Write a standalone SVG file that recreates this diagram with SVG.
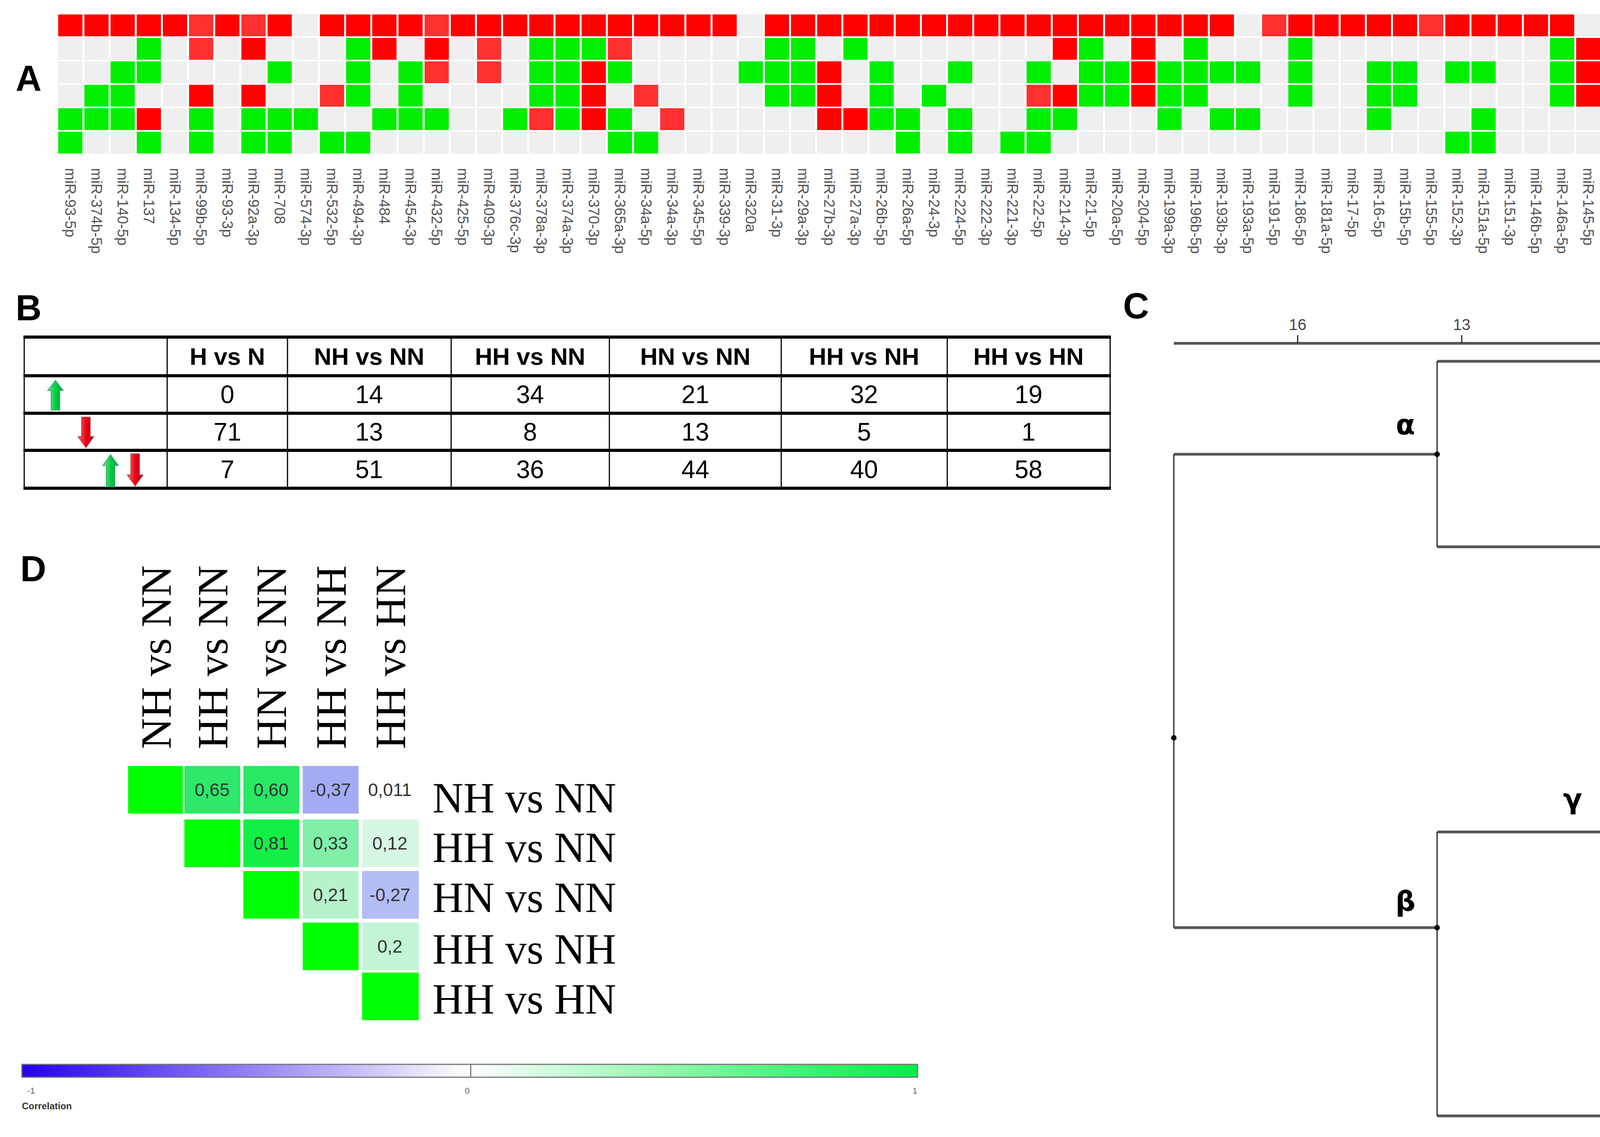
<svg xmlns="http://www.w3.org/2000/svg" width="5728" height="2911" viewBox="0 0 5728 2911">
<style>
.pl{font-family:"Liberation Sans",Arial,sans-serif;font-weight:bold;font-size:92px;fill:#000}
.ml{font-family:"Liberation Sans",Arial,sans-serif;font-size:38px;fill:#555}
.rl{font-family:"Liberation Sans",Arial,sans-serif;font-size:38px;fill:#333}
.th{font-family:"Liberation Sans",Arial,sans-serif;font-weight:bold;font-size:62px;fill:#000;text-anchor:middle}
.td{font-family:"Liberation Sans",Arial,sans-serif;font-size:64px;fill:#000;text-anchor:middle}
.ser{font-family:"Liberation Serif","Times New Roman",serif;font-size:110px;fill:#000}
.cv{font-family:"Liberation Sans",Arial,sans-serif;font-size:46px;fill:#333;text-anchor:middle}
.ax{font-family:"Liberation Sans",Arial,sans-serif;font-size:40px;fill:#444;text-anchor:middle}
.lf{font-family:"Liberation Sans",Arial,sans-serif;font-size:38px;fill:#333}
.gk{font-family:"DejaVu Sans",sans-serif;font-weight:bold;font-size:72px;fill:#000;text-anchor:middle}
.hb{stroke:#555;stroke-width:7;fill:none}
.vb{stroke:#222;stroke-width:3;fill:none}
.tl{stroke:#000;stroke-width:8}
.tv{stroke:#000;stroke-width:3}
</style>
<defs>
<pattern id="pB" patternUnits="userSpaceOnUse" x="149" y="37" width="67" height="60"><rect width="62" height="56" fill="#efefef"/></pattern>
<pattern id="pR" patternUnits="userSpaceOnUse" x="149" y="37" width="67" height="60"><rect width="62" height="56" fill="#ff0000"/></pattern>
<pattern id="pr" patternUnits="userSpaceOnUse" x="149" y="37" width="67" height="60"><rect width="62" height="56" fill="#ff3030"/></pattern>
<pattern id="pG" patternUnits="userSpaceOnUse" x="149" y="37" width="67" height="60"><rect width="62" height="56" fill="#00ee00"/></pattern>
<linearGradient id="gUp" x1="0" y1="0" x2="1" y2="0"><stop offset="0" stop-color="#7fe08f"/><stop offset="0.5" stop-color="#00d040"/><stop offset="1" stop-color="#009a50"/></linearGradient>
<linearGradient id="gDn" x1="0" y1="0" x2="1" y2="0"><stop offset="0" stop-color="#ff7070"/><stop offset="0.5" stop-color="#ee0010"/><stop offset="1" stop-color="#a00020"/></linearGradient>
<linearGradient id="gBar" x1="0" y1="0" x2="1" y2="0"><stop offset="0" stop-color="#2200ee"/><stop offset="0.5" stop-color="#ffffff"/><stop offset="1" stop-color="#00ee44"/></linearGradient>
</defs>
<rect width="5728" height="2911" fill="#fff"/>

<g id="panelA">
<text class="pl" x="40" y="232">A</text>
<rect x="149" y="37" width="5226" height="356" fill="url(#pB)"/>
<g id="row0" transform="translate(0,0)">
<rect x="149" y="37" width="335" height="56" fill="url(#pR)"/><rect x="484" y="37" width="67" height="56" fill="url(#pr)"/><rect x="551" y="37" width="67" height="56" fill="url(#pR)"/><rect x="618" y="37" width="67" height="56" fill="url(#pr)"/><rect x="685" y="37" width="67" height="56" fill="url(#pR)"/><rect x="819" y="37" width="268" height="56" fill="url(#pR)"/><rect x="1087" y="37" width="67" height="56" fill="url(#pr)"/><rect x="1154" y="37" width="737" height="56" fill="url(#pR)"/><rect x="1958" y="37" width="1206" height="56" fill="url(#pR)"/><rect x="3231" y="37" width="67" height="56" fill="url(#pr)"/><rect x="3298" y="37" width="335" height="56" fill="url(#pR)"/><rect x="3633" y="37" width="67" height="56" fill="url(#pr)"/><rect x="3700" y="37" width="335" height="56" fill="url(#pR)"/><rect x="4102" y="37" width="402" height="56" fill="url(#pR)"/><rect x="4638" y="37" width="335" height="56" fill="url(#pR)"/><rect x="4973" y="37" width="67" height="56" fill="url(#pr)"/><rect x="5040" y="37" width="134" height="56" fill="url(#pR)"/><rect x="5241" y="37" width="134" height="56" fill="url(#pR)"/>
</g>
<g id="row1">
<rect x="350" y="97" width="67" height="56" fill="url(#pG)"/><rect x="484" y="97" width="67" height="56" fill="url(#pr)"/><rect x="618" y="97" width="67" height="56" fill="url(#pR)"/><rect x="886" y="97" width="67" height="56" fill="url(#pG)"/><rect x="953" y="97" width="67" height="56" fill="url(#pR)"/><rect x="1087" y="97" width="67" height="56" fill="url(#pR)"/><rect x="1221" y="97" width="67" height="56" fill="url(#pr)"/><rect x="1355" y="97" width="201" height="56" fill="url(#pG)"/><rect x="1556" y="97" width="67" height="56" fill="url(#pr)"/><rect x="1958" y="97" width="134" height="56" fill="url(#pG)"/><rect x="2159" y="97" width="67" height="56" fill="url(#pG)"/><rect x="2695" y="97" width="67" height="56" fill="url(#pR)"/><rect x="2762" y="97" width="67" height="56" fill="url(#pG)"/><rect x="2896" y="97" width="67" height="56" fill="url(#pR)"/><rect x="3030" y="97" width="67" height="56" fill="url(#pG)"/><rect x="3298" y="97" width="67" height="56" fill="url(#pG)"/><rect x="3968" y="97" width="67" height="56" fill="url(#pG)"/><rect x="4035" y="97" width="134" height="56" fill="url(#pR)"/><rect x="4303" y="97" width="67" height="56" fill="url(#pR)"/><rect x="4437" y="97" width="67" height="56" fill="url(#pr)"/><rect x="4504" y="97" width="67" height="56" fill="url(#pG)"/><rect x="4772" y="97" width="67" height="56" fill="url(#pR)"/><rect x="4973" y="97" width="67" height="56" fill="url(#pG)"/>
</g>
<g id="row2">
<rect x="283" y="157" width="134" height="56" fill="url(#pG)"/><rect x="685" y="157" width="67" height="56" fill="url(#pG)"/><rect x="886" y="157" width="67" height="56" fill="url(#pG)"/><rect x="1020" y="157" width="67" height="56" fill="url(#pG)"/><rect x="1087" y="157" width="67" height="56" fill="url(#pr)"/><rect x="1221" y="157" width="67" height="56" fill="url(#pr)"/><rect x="1355" y="157" width="134" height="56" fill="url(#pG)"/><rect x="1489" y="157" width="67" height="56" fill="url(#pR)"/><rect x="1556" y="157" width="67" height="56" fill="url(#pG)"/><rect x="1891" y="157" width="201" height="56" fill="url(#pG)"/><rect x="2092" y="157" width="67" height="56" fill="url(#pR)"/><rect x="2226" y="157" width="67" height="56" fill="url(#pG)"/><rect x="2427" y="157" width="67" height="56" fill="url(#pG)"/><rect x="2628" y="157" width="67" height="56" fill="url(#pG)"/><rect x="2762" y="157" width="134" height="56" fill="url(#pG)"/><rect x="2896" y="157" width="67" height="56" fill="url(#pR)"/><rect x="2963" y="157" width="268" height="56" fill="url(#pG)"/><rect x="3298" y="157" width="67" height="56" fill="url(#pG)"/><rect x="3499" y="157" width="134" height="56" fill="url(#pG)"/><rect x="3700" y="157" width="134" height="56" fill="url(#pG)"/><rect x="3968" y="157" width="67" height="56" fill="url(#pG)"/><rect x="4035" y="157" width="67" height="56" fill="url(#pR)"/><rect x="4236" y="157" width="67" height="56" fill="url(#pG)"/><rect x="4303" y="157" width="67" height="56" fill="url(#pR)"/><rect x="4437" y="157" width="67" height="56" fill="url(#pr)"/><rect x="4504" y="157" width="67" height="56" fill="url(#pG)"/><rect x="4839" y="157" width="67" height="56" fill="url(#pG)"/><rect x="4973" y="157" width="335" height="56" fill="url(#pG)"/>
</g>
<g id="row3">
<rect x="216" y="217" width="134" height="56" fill="url(#pG)"/><rect x="484" y="217" width="67" height="56" fill="url(#pR)"/><rect x="618" y="217" width="67" height="56" fill="url(#pR)"/><rect x="819" y="217" width="67" height="56" fill="url(#pr)"/><rect x="886" y="217" width="67" height="56" fill="url(#pG)"/><rect x="1020" y="217" width="67" height="56" fill="url(#pG)"/><rect x="1355" y="217" width="134" height="56" fill="url(#pG)"/><rect x="1489" y="217" width="67" height="56" fill="url(#pR)"/><rect x="1623" y="217" width="67" height="56" fill="url(#pr)"/><rect x="1958" y="217" width="134" height="56" fill="url(#pG)"/><rect x="2092" y="217" width="67" height="56" fill="url(#pR)"/><rect x="2226" y="217" width="67" height="56" fill="url(#pG)"/><rect x="2360" y="217" width="67" height="56" fill="url(#pG)"/><rect x="2628" y="217" width="67" height="56" fill="url(#pr)"/><rect x="2695" y="217" width="67" height="56" fill="url(#pR)"/><rect x="2762" y="217" width="134" height="56" fill="url(#pG)"/><rect x="2896" y="217" width="67" height="56" fill="url(#pR)"/><rect x="2963" y="217" width="134" height="56" fill="url(#pG)"/><rect x="3298" y="217" width="67" height="56" fill="url(#pG)"/><rect x="3499" y="217" width="134" height="56" fill="url(#pG)"/><rect x="3968" y="217" width="67" height="56" fill="url(#pG)"/><rect x="4035" y="217" width="67" height="56" fill="url(#pR)"/><rect x="4303" y="217" width="67" height="56" fill="url(#pR)"/><rect x="4437" y="217" width="67" height="56" fill="url(#pR)"/><rect x="4504" y="217" width="67" height="56" fill="url(#pG)"/><rect x="4772" y="217" width="67" height="56" fill="url(#pR)"/><rect x="5040" y="217" width="134" height="56" fill="url(#pG)"/>
</g>
<g id="row4">
<rect x="149" y="277" width="201" height="56" fill="url(#pG)"/><rect x="350" y="277" width="67" height="56" fill="url(#pR)"/><rect x="484" y="277" width="67" height="56" fill="url(#pG)"/><rect x="618" y="277" width="201" height="56" fill="url(#pG)"/><rect x="953" y="277" width="201" height="56" fill="url(#pG)"/><rect x="1288" y="277" width="67" height="56" fill="url(#pG)"/><rect x="1355" y="277" width="67" height="56" fill="url(#pr)"/><rect x="1422" y="277" width="67" height="56" fill="url(#pG)"/><rect x="1489" y="277" width="67" height="56" fill="url(#pR)"/><rect x="1556" y="277" width="67" height="56" fill="url(#pG)"/><rect x="1690" y="277" width="67" height="56" fill="url(#pr)"/><rect x="2092" y="277" width="134" height="56" fill="url(#pR)"/><rect x="2226" y="277" width="134" height="56" fill="url(#pG)"/><rect x="2427" y="277" width="67" height="56" fill="url(#pG)"/><rect x="2628" y="277" width="134" height="56" fill="url(#pG)"/><rect x="2963" y="277" width="67" height="56" fill="url(#pG)"/><rect x="3097" y="277" width="134" height="56" fill="url(#pG)"/><rect x="3499" y="277" width="67" height="56" fill="url(#pG)"/><rect x="3767" y="277" width="67" height="56" fill="url(#pG)"/><rect x="4102" y="277" width="67" height="56" fill="url(#pG)"/><rect x="4236" y="277" width="67" height="56" fill="url(#pG)"/><rect x="4370" y="277" width="67" height="56" fill="url(#pG)"/><rect x="4772" y="277" width="134" height="56" fill="url(#pG)"/><rect x="5040" y="277" width="67" height="56" fill="url(#pG)"/><rect x="5174" y="277" width="201" height="56" fill="url(#pG)"/>
</g>
<g id="row5">
<rect x="149" y="337" width="67" height="56" fill="url(#pG)"/><rect x="350" y="337" width="67" height="56" fill="url(#pG)"/><rect x="484" y="337" width="67" height="56" fill="url(#pG)"/><rect x="618" y="337" width="134" height="56" fill="url(#pG)"/><rect x="819" y="337" width="134" height="56" fill="url(#pG)"/><rect x="1556" y="337" width="134" height="56" fill="url(#pG)"/><rect x="2293" y="337" width="67" height="56" fill="url(#pG)"/><rect x="2427" y="337" width="67" height="56" fill="url(#pG)"/><rect x="2561" y="337" width="134" height="56" fill="url(#pG)"/><rect x="3700" y="337" width="134" height="56" fill="url(#pG)"/><rect x="4102" y="337" width="67" height="56" fill="url(#pr)"/><rect x="4437" y="337" width="67" height="56" fill="url(#pG)"/><rect x="4772" y="337" width="134" height="56" fill="url(#pG)"/><rect x="5174" y="337" width="67" height="56" fill="url(#pG)"/>
</g>
<g id="rowLabels" class="rl">
<text x="5390" y="78">H vs N</text><text x="5390" y="138">NH vs NN</text><text x="5390" y="198">HH vs NN</text><text x="5390" y="258">HN vs NN</text><text x="5390" y="318">HH vs NH</text><text x="5390" y="378">HH vs HN</text>
</g>
<g id="colLabels" class="ml">
<text x="180" y="430" dy="0.35em" transform="rotate(90 180 430)">miR-93-5p</text>
<text x="247" y="430" dy="0.35em" transform="rotate(90 247 430)">miR-374b-5p</text>
<text x="314" y="430" dy="0.35em" transform="rotate(90 314 430)">miR-140-5p</text>
<text x="381" y="430" dy="0.35em" transform="rotate(90 381 430)">miR-137</text>
<text x="448" y="430" dy="0.35em" transform="rotate(90 448 430)">miR-134-5p</text>
<text x="515" y="430" dy="0.35em" transform="rotate(90 515 430)">miR-99b-5p</text>
<text x="582" y="430" dy="0.35em" transform="rotate(90 582 430)">miR-93-3p</text>
<text x="649" y="430" dy="0.35em" transform="rotate(90 649 430)">miR-92a-3p</text>
<text x="716" y="430" dy="0.35em" transform="rotate(90 716 430)">miR-708</text>
<text x="783" y="430" dy="0.35em" transform="rotate(90 783 430)">miR-574-3p</text>
<text x="850" y="430" dy="0.35em" transform="rotate(90 850 430)">miR-532-5p</text>
<text x="917" y="430" dy="0.35em" transform="rotate(90 917 430)">miR-494-3p</text>
<text x="984" y="430" dy="0.35em" transform="rotate(90 984 430)">miR-484</text>
<text x="1051" y="430" dy="0.35em" transform="rotate(90 1051 430)">miR-454-3p</text>
<text x="1118" y="430" dy="0.35em" transform="rotate(90 1118 430)">miR-432-5p</text>
<text x="1185" y="430" dy="0.35em" transform="rotate(90 1185 430)">miR-425-5p</text>
<text x="1252" y="430" dy="0.35em" transform="rotate(90 1252 430)">miR-409-3p</text>
<text x="1319" y="430" dy="0.35em" transform="rotate(90 1319 430)">miR-376c-3p</text>
<text x="1386" y="430" dy="0.35em" transform="rotate(90 1386 430)">miR-378a-3p</text>
<text x="1453" y="430" dy="0.35em" transform="rotate(90 1453 430)">miR-374a-3p</text>
<text x="1520" y="430" dy="0.35em" transform="rotate(90 1520 430)">miR-370-3p</text>
<text x="1587" y="430" dy="0.35em" transform="rotate(90 1587 430)">miR-365a-3p</text>
<text x="1654" y="430" dy="0.35em" transform="rotate(90 1654 430)">miR-34a-5p</text>
<text x="1721" y="430" dy="0.35em" transform="rotate(90 1721 430)">miR-34a-3p</text>
<text x="1788" y="430" dy="0.35em" transform="rotate(90 1788 430)">miR-345-5p</text>
<text x="1855" y="430" dy="0.35em" transform="rotate(90 1855 430)">miR-339-3p</text>
<text x="1922" y="430" dy="0.35em" transform="rotate(90 1922 430)">miR-320a</text>
<text x="1989" y="430" dy="0.35em" transform="rotate(90 1989 430)">miR-31-3p</text>
<text x="2056" y="430" dy="0.35em" transform="rotate(90 2056 430)">miR-29a-3p</text>
<text x="2123" y="430" dy="0.35em" transform="rotate(90 2123 430)">miR-27b-3p</text>
<text x="2190" y="430" dy="0.35em" transform="rotate(90 2190 430)">miR-27a-3p</text>
<text x="2257" y="430" dy="0.35em" transform="rotate(90 2257 430)">miR-26b-5p</text>
<text x="2324" y="430" dy="0.35em" transform="rotate(90 2324 430)">miR-26a-5p</text>
<text x="2391" y="430" dy="0.35em" transform="rotate(90 2391 430)">miR-24-3p</text>
<text x="2458" y="430" dy="0.35em" transform="rotate(90 2458 430)">miR-224-5p</text>
<text x="2525" y="430" dy="0.35em" transform="rotate(90 2525 430)">miR-222-3p</text>
<text x="2592" y="430" dy="0.35em" transform="rotate(90 2592 430)">miR-221-3p</text>
<text x="2659" y="430" dy="0.35em" transform="rotate(90 2659 430)">miR-22-5p</text>
<text x="2726" y="430" dy="0.35em" transform="rotate(90 2726 430)">miR-214-3p</text>
<text x="2793" y="430" dy="0.35em" transform="rotate(90 2793 430)">miR-21-5p</text>
<text x="2860" y="430" dy="0.35em" transform="rotate(90 2860 430)">miR-20a-5p</text>
<text x="2927" y="430" dy="0.35em" transform="rotate(90 2927 430)">miR-204-5p</text>
<text x="2994" y="430" dy="0.35em" transform="rotate(90 2994 430)">miR-199a-3p</text>
<text x="3061" y="430" dy="0.35em" transform="rotate(90 3061 430)">miR-196b-5p</text>
<text x="3128" y="430" dy="0.35em" transform="rotate(90 3128 430)">miR-193b-3p</text>
<text x="3195" y="430" dy="0.35em" transform="rotate(90 3195 430)">miR-193a-5p</text>
<text x="3262" y="430" dy="0.35em" transform="rotate(90 3262 430)">miR-191-5p</text>
<text x="3329" y="430" dy="0.35em" transform="rotate(90 3329 430)">miR-186-5p</text>
<text x="3396" y="430" dy="0.35em" transform="rotate(90 3396 430)">miR-181a-5p</text>
<text x="3463" y="430" dy="0.35em" transform="rotate(90 3463 430)">miR-17-5p</text>
<text x="3530" y="430" dy="0.35em" transform="rotate(90 3530 430)">miR-16-5p</text>
<text x="3597" y="430" dy="0.35em" transform="rotate(90 3597 430)">miR-15b-5p</text>
<text x="3664" y="430" dy="0.35em" transform="rotate(90 3664 430)">miR-155-5p</text>
<text x="3731" y="430" dy="0.35em" transform="rotate(90 3731 430)">miR-152-3p</text>
<text x="3798" y="430" dy="0.35em" transform="rotate(90 3798 430)">miR-151a-5p</text>
<text x="3865" y="430" dy="0.35em" transform="rotate(90 3865 430)">miR-151-3p</text>
<text x="3932" y="430" dy="0.35em" transform="rotate(90 3932 430)">miR-146b-5p</text>
<text x="3999" y="430" dy="0.35em" transform="rotate(90 3999 430)">miR-146a-5p</text>
<text x="4066" y="430" dy="0.35em" transform="rotate(90 4066 430)">miR-145-5p</text>
<text x="4133" y="430" dy="0.35em" transform="rotate(90 4133 430)">miR-143-3p</text>
<text x="4200" y="430" dy="0.35em" transform="rotate(90 4200 430)">miR-140-3p</text>
<text x="4267" y="430" dy="0.35em" transform="rotate(90 4267 430)">miR-138-5p</text>
<text x="4334" y="430" dy="0.35em" transform="rotate(90 4334 430)">miR-132-3p</text>
<text x="4401" y="430" dy="0.35em" transform="rotate(90 4401 430)">mir-130a-3p</text>
<text x="4468" y="430" dy="0.35em" transform="rotate(90 4468 430)">miR-127-3p</text>
<text x="4535" y="430" dy="0.35em" transform="rotate(90 4535 430)">miR-126-3p</text>
<text x="4602" y="430" dy="0.35em" transform="rotate(90 4602 430)">miR-125a-5p</text>
<text x="4669" y="430" dy="0.35em" transform="rotate(90 4669 430)">miR-10b-5p</text>
<text x="4736" y="430" dy="0.35em" transform="rotate(90 4736 430)">miR-10a-3p</text>
<text x="4803" y="430" dy="0.35em" transform="rotate(90 4803 430)">miR-10a-5p</text>
<text x="4870" y="430" dy="0.35em" transform="rotate(90 4870 430)">miR-106b-5p</text>
<text x="4937" y="430" dy="0.35em" transform="rotate(90 4937 430)">miR-106a-5p</text>
<text x="5004" y="430" dy="0.35em" transform="rotate(90 5004 430)">miR-100-5p</text>
<text x="5071" y="430" dy="0.35em" transform="rotate(90 5071 430)">let-7g-5p</text>
<text x="5138" y="430" dy="0.35em" transform="rotate(90 5138 430)">let-7e-5p</text>
<text x="5205" y="430" dy="0.35em" transform="rotate(90 5205 430)">let-7d-5p</text>
<text x="5272" y="430" dy="0.35em" transform="rotate(90 5272 430)">let-7c-5p</text>
<text x="5339" y="430" dy="0.35em" transform="rotate(90 5339 430)">let-7a-5p</text>
</g>
</g>

<g id="panelB">
<text class="pl" x="40" y="820">B</text>
<g id="tableLines">
<line class="tl" x1="60" y1="863" x2="2844" y2="863"/>
<line class="tl" x1="60" y1="962" x2="2844" y2="962"/>
<line class="tl" x1="60" y1="1058" x2="2844" y2="1058"/>
<line class="tl" x1="60" y1="1153" x2="2844" y2="1153"/>
<line class="tl" x1="60" y1="1250" x2="2844" y2="1250"/>
<line class="tv" x1="62" y1="863" x2="62" y2="1250"/>
<line class="tv" x1="428" y1="863" x2="428" y2="1250"/>
<line class="tv" x1="736" y1="863" x2="736" y2="1250"/>
<line class="tv" x1="1155" y1="863" x2="1155" y2="1250"/>
<line class="tv" x1="1560" y1="863" x2="1560" y2="1250"/>
<line class="tv" x1="2000" y1="863" x2="2000" y2="1250"/>
<line class="tv" x1="2425" y1="863" x2="2425" y2="1250"/>
<line class="tv" x1="2842" y1="863" x2="2842" y2="1250"/>
</g>
<g id="tableHeader">
<text class="th" x="582" y="934">H vs N</text><text class="th" x="945" y="934">NH vs NN</text><text class="th" x="1357" y="934">HH vs NN</text><text class="th" x="1780" y="934">HN vs NN</text><text class="th" x="2212" y="934">HH vs NH</text><text class="th" x="2633" y="934">HH vs HN</text>
</g>
<g id="tableRowUp">
<polygon points="131,1050 153,1050 153,1000 162,1000 142,974 122,1000 131,1000" fill="url(#gUp)" stroke="#4a7" stroke-width="2"/>
<text class="td" x="582" y="1032">0</text><text class="td" x="945" y="1032">14</text><text class="td" x="1357" y="1032">34</text><text class="td" x="1780" y="1032">21</text><text class="td" x="2212" y="1032">32</text><text class="td" x="2633" y="1032">19</text>
</g>
<g id="tableRowDown">
<polygon points="209,1068 231,1068 231,1118 240,1118 220,1146 200,1118 209,1118" fill="url(#gDn)" stroke="#a44" stroke-width="2"/>
<text class="td" x="582" y="1128">71</text><text class="td" x="945" y="1128">13</text><text class="td" x="1357" y="1128">8</text><text class="td" x="1780" y="1128">13</text><text class="td" x="2212" y="1128">5</text><text class="td" x="2633" y="1128">1</text>
</g>
<g id="tableRowBoth">
<polygon points="272,1246 294,1246 294,1192 303,1192 283,1164 263,1192 272,1192" fill="url(#gUp)" stroke="#4a7" stroke-width="2"/>
<polygon points="335,1162 357,1162 357,1216 366,1216 346,1244 326,1216 335,1216" fill="url(#gDn)" stroke="#a44" stroke-width="2"/>
<text class="td" x="582" y="1224">7</text><text class="td" x="945" y="1224">51</text><text class="td" x="1357" y="1224">36</text><text class="td" x="1780" y="1224">44</text><text class="td" x="2212" y="1224">40</text><text class="td" x="2633" y="1224">58</text>
</g>
</g>

<g id="panelC">
<text class="pl" x="2875" y="815">C</text>
<g id="axis">
<line class="hb" x1="3005" y1="879" x2="5421" y2="879"/>
<path class="vb" d="M3322 879V858M3742 879V858M4162 879V858M4582 879V858M5001 879V858M5421 879V858"/>
<text class="ax" x="3322" y="845">16</text><text class="ax" x="3742" y="845">13</text><text class="ax" x="4162" y="845">9</text><text class="ax" x="4582" y="845">6</text><text class="ax" x="5001" y="845">3</text><text class="ax" x="5421" y="845">0</text>
</g>
<g id="connectors">
<path class="hb" d="M3679 925H5421M3679 1400H5421M3005 1163H3679M3005 2375H3679M3679 2130H4121M3679 2857H5421M4121 1889H5421M4121 2367H5421"/>
<path class="vb" d="M3679 925V1400M3005 1163V2375M3679 2130V2857M4121 1889V2367"/>
<g fill="#000">
<circle cx="3005" cy="1889" r="7"/><circle cx="3679" cy="1163" r="7"/><circle cx="3679" cy="2375" r="7"/><circle cx="4121" cy="2130" r="7"/>
<circle cx="5421" cy="925" r="7"/><circle cx="5421" cy="1400" r="7"/><circle cx="5421" cy="1889" r="7"/><circle cx="5421" cy="2367" r="7"/><circle cx="5421" cy="2857" r="7"/>
</g>
</g>
<g id="leaf1"><text class="lf" x="5432" y="938">HH vs NH</text></g>
<g id="leaf2"><text class="lf" x="5432" y="1413">HH vs HN</text></g>
<g id="leaf3"><text class="lf" x="5432" y="1902">HH vs NN</text></g>
<g id="leaf4"><text class="lf" x="5432" y="2380">HN vs NN</text></g>
<g id="leaf5"><text class="lf" x="5432" y="2870">NH vs NN</text></g>
<g id="alpha"><text class="gk" x="3598" y="1112">α</text></g>
<g id="beta"><text class="gk" x="3598" y="2332">β</text></g>
<g id="gamma"><text class="gk" x="4026" y="2070">γ</text></g>
</g>

<g id="panelD">
<text class="pl" x="52" y="1488">D</text>
<g id="dColHeads" class="ser">
<text x="398" y="1918" dy="0.35em" transform="rotate(-90 398 1918)">NH vs NN</text>
<text x="543" y="1918" dy="0.35em" transform="rotate(-90 543 1918)">HH vs NN</text>
<text x="693" y="1918" dy="0.35em" transform="rotate(-90 693 1918)">HN vs NN</text>
<text x="846" y="1918" dy="0.35em" transform="rotate(-90 846 1918)">HH vs NH</text>
<text x="998" y="1918" dy="0.35em" transform="rotate(-90 998 1918)">HH vs HN</text>
</g>
<g id="dCells">
<rect x="328" y="1961" width="140" height="122" fill="#00ff00"/>
<rect x="472" y="1961" width="143" height="122" fill="#2de86a"/>
<rect x="623" y="1961" width="143" height="122" fill="#28e864"/>
<rect x="775" y="1961" width="143" height="122" fill="#a4abf4"/>
<rect x="472" y="2098" width="143" height="122" fill="#00ff00"/>
<rect x="623" y="2098" width="143" height="122" fill="#12f045"/>
<rect x="775" y="2098" width="143" height="122" fill="#80efa8"/>
<rect x="927" y="2098" width="145" height="122" fill="#d6f7e2"/>
<rect x="623" y="2230" width="143" height="122" fill="#00ff00"/>
<rect x="775" y="2230" width="143" height="122" fill="#b6f3cc"/>
<rect x="927" y="2230" width="145" height="122" fill="#b4bcf5"/>
<rect x="775" y="2362" width="143" height="122" fill="#00ff00"/>
<rect x="927" y="2362" width="145" height="122" fill="#c2f5d5"/>
<rect x="927" y="2490" width="145" height="122" fill="#00ff00"/>
</g>
<g id="dValues" class="cv">
<text x="543" y="2038">0,65</text><text x="694" y="2038">0,60</text><text x="846" y="2038">-0,37</text><text x="998" y="2038">0,011</text>
<text x="694" y="2175">0,81</text><text x="846" y="2175">0,33</text><text x="998" y="2175">0,12</text>
<text x="846" y="2307">0,21</text><text x="998" y="2307">-0,27</text>
<text x="998" y="2439">0,2</text>
</g>
<g id="dRowHeads" class="ser">
<text x="1107" y="2080">NH vs NN</text><text x="1107" y="2207">HH vs NN</text><text x="1107" y="2335">HN vs NN</text><text x="1107" y="2467">HH vs NH</text><text x="1107" y="2595">HH vs HN</text>
</g>
<g id="colorbar">
<rect x="56" y="2725" width="2293" height="33" fill="url(#gBar)" stroke="#777" stroke-width="3"/>
<line x1="1205" y1="2725" x2="1205" y2="2758" stroke="#777" stroke-width="3"/>
<text x="70" y="2800" font-family="Liberation Sans, sans-serif" font-size="22" fill="#666">-1</text>
<text x="1190" y="2800" font-family="Liberation Sans, sans-serif" font-size="22" fill="#666">0</text>
<text x="2336" y="2800" font-family="Liberation Sans, sans-serif" font-size="22" fill="#666">1</text>
<text x="56" y="2840" font-family="Liberation Sans, sans-serif" font-size="24" font-weight="bold" fill="#333">Correlation</text>
</g>
</g>
</svg>
